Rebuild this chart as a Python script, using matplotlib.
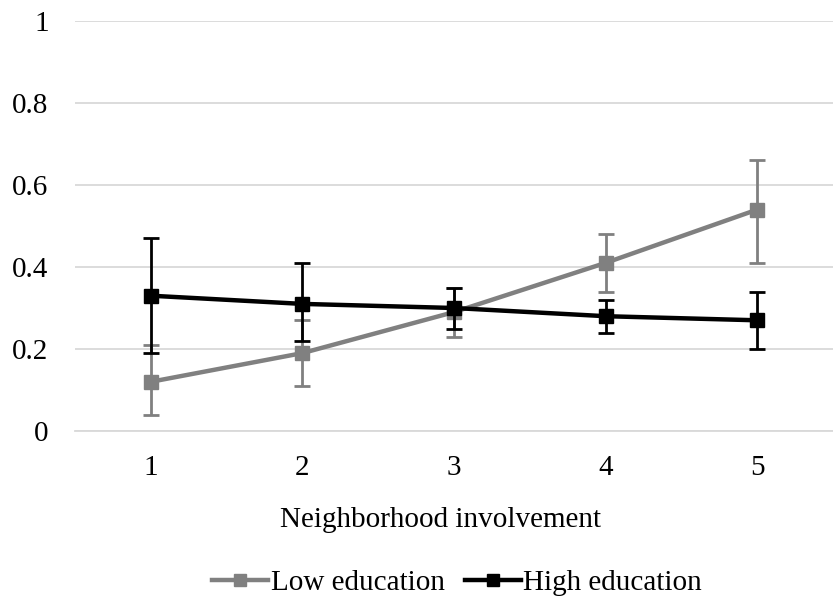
import matplotlib
matplotlib.use("Agg")
import matplotlib.pyplot as plt
from matplotlib.lines import Line2D

x = [1, 2, 3, 4, 5]
low_vals = [0.12, 0.19, 0.29, 0.41, 0.54]
low_lo = [0.04, 0.11, 0.23, 0.34, 0.41]
low_hi = [0.21, 0.27, 0.35, 0.48, 0.66]
high_vals = [0.33, 0.31, 0.30, 0.28, 0.27]
high_lo = [0.19, 0.22, 0.25, 0.24, 0.20]
high_hi = [0.47, 0.41, 0.35, 0.32, 0.34]
yticks = [0, 0.2, 0.4, 0.6, 0.8, 1]
ytick_labels = ["0", "0.2", "0.4", "0.6", "0.8", "1"]

plt.rcParams['font.family'] = ['Liberation Serif', 'DejaVu Serif']

fig = plt.figure(figsize=(8.33, 6.01), dpi=100)
ax = fig.add_axes([75/833, 1-431/601, 1-75/833, 410/601])

gray = '#808080'
def err(v, lo, hi):
    return [[a-b for a, b in zip(v, lo)], [c-a for a, c in zip(v, hi)]]

ax.errorbar(x, low_vals, yerr=err(low_vals, low_lo, low_hi), color=gray, lw=3.2,
            marker='s', ms=10, elinewidth=2, capsize=6, capthick=2, label='Low education', zorder=3)
ax.errorbar(x, high_vals, yerr=err(high_vals, high_lo, high_hi), color='black', lw=3.2,
            marker='s', ms=10, elinewidth=2, capsize=6, capthick=2, label='High education', zorder=4)

ax.set_xlim(0.5, 5.5)
ax.set_ylim(0, 1)
ax.set_yticks(yticks)
ax.set_yticklabels(ytick_labels)
ax.set_xticks(x)
ax.grid(axis='y', color='#d9d9d9', lw=1.3)
ax.set_axisbelow(True)
for s in ['top', 'right', 'left']:
    ax.spines[s].set_visible(False)
ax.spines['bottom'].set_color('#d9d9d9')
ax.spines['bottom'].set_linewidth(1.3)
ax.tick_params(axis='both', length=0, labelsize=21, colors='black')
ax.tick_params(axis='x', pad=17.5)
ax.tick_params(axis='y', pad=19)
ax.set_xlabel('Neighborhood involvement', fontsize=21, labelpad=18)
ax.xaxis.set_label_coords((440-75)/758, -(507-431)/410, transform=ax.transAxes)
ax.xaxis.label.set_va('top')

handles = [Line2D([0], [0], color=gray, lw=3.2, marker='s', ms=9),
           Line2D([0], [0], color='black', lw=3.2, marker='s', ms=9)]
fig.legend(handles, ['Low education', 'High education'], loc='center', bbox_to_anchor=(0.549, 1-583/601),
           ncol=2, frameon=False, fontsize=21, handlelength=1.9, handletextpad=0.1, columnspacing=0.7)

fig.savefig('out.png', dpi=100)
